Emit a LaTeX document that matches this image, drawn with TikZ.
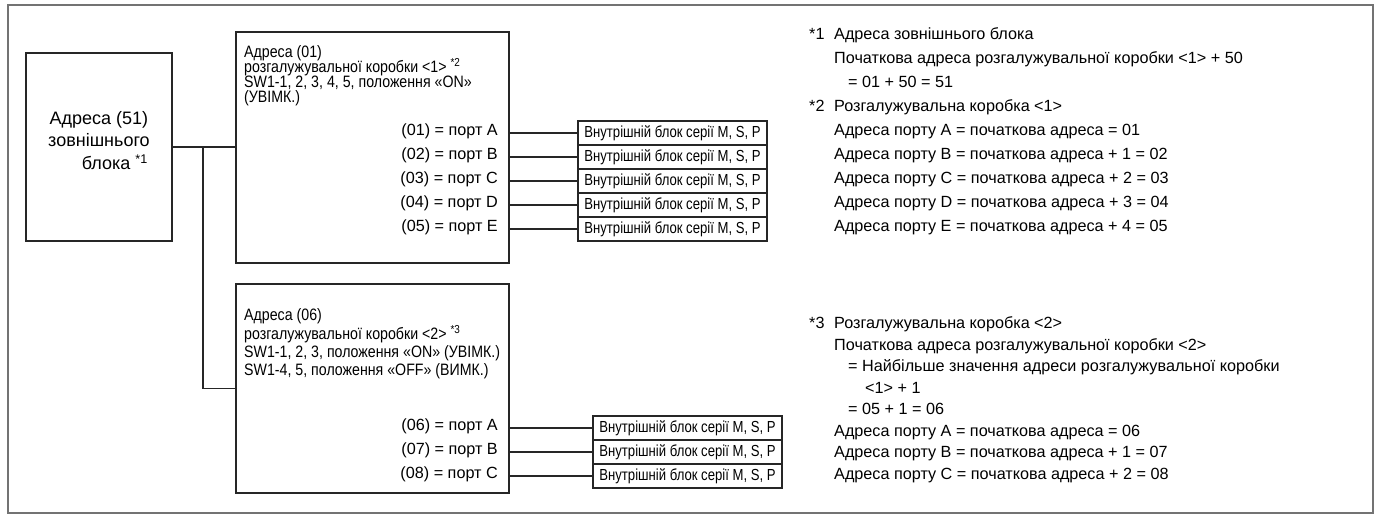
\documentclass[tikz,border=0pt]{standalone}
\usepackage{fontspec}
\setmainfont{Liberation Sans}
\newfontfamily\narrowfont[FakeStretch=0.86]{Liberation Sans}
\newfontfamily\unitfont[FakeStretch=0.82]{Liberation Sans}
\begin{document}
\begin{tikzpicture}[x=1pt,y=-1pt,
  frame/.style={draw=black!55, line width=1.6pt},
  blk/.style={draw=black!85, line width=1.1pt, inner sep=0pt, outer sep=0pt, anchor=north west},
  wire/.style={draw=black!85, line width=1.1pt},
  txt/.style={inner sep=0pt, text height=0.75em, text depth=0.25em, anchor=west},
  main/.style={txt, font=\fontsize{16.2}{20}\selectfont},
  big/.style={txt, font=\fontsize{18}{22}\selectfont},
  narrow/.style={txt, font=\narrowfont\fontsize{16.5}{18}\selectfont},
  port/.style={main, anchor=east},
  unit/.style={blk, minimum width=189pt, minimum height=24pt, font=\unitfont\fontsize{16}{18}\selectfont}
]
\useasboundingbox (0,0) rectangle (1381,519);
\draw[frame] (8,5) rectangle (1373,513);

% outdoor unit
\node[blk, minimum width=146pt, minimum height=188pt] (od) at (26,53) {};
\node[big, anchor=center] (od1) at (99,122) {Адреса (51)};
\node[big, anchor=center] (od2) at (99,144) {зовнішнього};
\node[big, anchor=east] (od3) at (148,167) {блока \textsuperscript{*1}};

% branch box 1
\node[blk, minimum width=273pt, minimum height=231pt] (bx1) at (236,32) {};
\node[narrow] (b1a) at (244,55) {Адреса (01)};
\node[narrow] (b1b) at (244,70) {розгалужувальної коробки <1> \textsuperscript{*2}};
\node[narrow] (b1c) at (244,85) {SW1-1, 2, 3, 4, 5, положення «ON»};
\node[narrow] (b1d) at (244,100) {(УВІМК.)};
\node[port] (p11) at (498,133) {(01) = порт A};
\node[port] (p12) at (498,157) {(02) = порт B};
\node[port] (p13) at (498,181) {(03) = порт C};
\node[port] (p14) at (498,205) {(04) = порт D};
\node[port] (p15) at (498,229) {(05) = порт E};
\node[unit] (i11) at (578,121) {Внутрішній блок серії M, S, P};
\node[unit] (i12) at (578,145) {Внутрішній блок серії M, S, P};
\node[unit] (i13) at (578,169) {Внутрішній блок серії M, S, P};
\node[unit] (i14) at (578,193) {Внутрішній блок серії M, S, P};
\node[unit] (i15) at (578,217) {Внутрішній блок серії M, S, P};

% branch box 2
\node[blk, minimum width=273pt, minimum height=209pt] (bx2) at (236,284) {};
\node[narrow] (b2a) at (244,318) {Адреса (06)};
\node[narrow] (b2b) at (244,337) {розгалужувальної коробки <2> \textsuperscript{*3}};
\node[narrow] (b2c) at (244,355) {SW1-1, 2, 3, положення «ON» (УВІМК.)};
\node[narrow] (b2d) at (244,373) {SW1-4, 5, положення «OFF» (ВИМК.)};
\node[port] (p21) at (498,428) {(06) = порт A};
\node[port] (p22) at (498,452) {(07) = порт B};
\node[port] (p23) at (498,476) {(08) = порт C};
\node[unit] (i21) at (593,416) {Внутрішній блок серії M, S, P};
\node[unit] (i22) at (593,440) {Внутрішній блок серії M, S, P};
\node[unit] (i23) at (593,464) {Внутрішній блок серії M, S, P};

% wiring
\coordinate (tj) at (203,147);
\draw[wire] (od.east) -- (od.east -| bx1.west);
\draw[wire] (tj) |- (bx2.west);
\foreach \u in {i11,i12,i13,i14,i15}{
  \draw[wire] (bx1.east |- \u.west) -- (\u.west);
}
\foreach \u in {i21,i22,i23}{
  \draw[wire] (bx2.east |- \u.west) -- (\u.west);
}

% notes
\node[main] (n1s) at (809,37) {*1};
\node[main] (n1a) at (834,37) {Адреса зовнішнього блока};
\node[main] (n1b) at (834,61) {Початкова адреса розгалужувальної коробки <1> + 50};
\node[main] (n1c) at (848,85) {= 01 + 50 = 51};
\node[main] (n2s) at (809,109) {*2};
\node[main] (n2a) at (834,109) {Розгалужувальна коробка <1>};
\node[main] (n2b) at (834,133) {Адреса порту A = початкова адреса = 01};
\node[main] (n2c) at (834,157) {Адреса порту B = початкова адреса + 1 = 02};
\node[main] (n2d) at (834,181) {Адреса порту C = початкова адреса + 2 = 03};
\node[main] (n2e) at (834,205) {Адреса порту D = початкова адреса + 3 = 04};
\node[main] (n2f) at (834,229) {Адреса порту E = початкова адреса + 4 = 05};

\node[main] (n3s) at (809,326) {*3};
\node[main] (n3a) at (834,326) {Розгалужувальна коробка <2>};
\node[main] (n3b) at (834,347.5) {Початкова адреса розгалужувальної коробки <2>};
\node[main] (n3c) at (848,369) {= Найбільше значення адреси розгалужувальної коробки};
\node[main] (n3d) at (865,390.5) {<1> + 1};
\node[main] (n3e) at (848,412) {= 05 + 1 = 06};
\node[main] (n3f) at (834,433.5) {Адреса порту A = початкова адреса = 06};
\node[main] (n3g) at (834,455) {Адреса порту B = початкова адреса + 1 = 07};
\node[main] (n3h) at (834,476.5) {Адреса порту C = початкова адреса + 2 = 08};
\end{tikzpicture}
\end{document}
